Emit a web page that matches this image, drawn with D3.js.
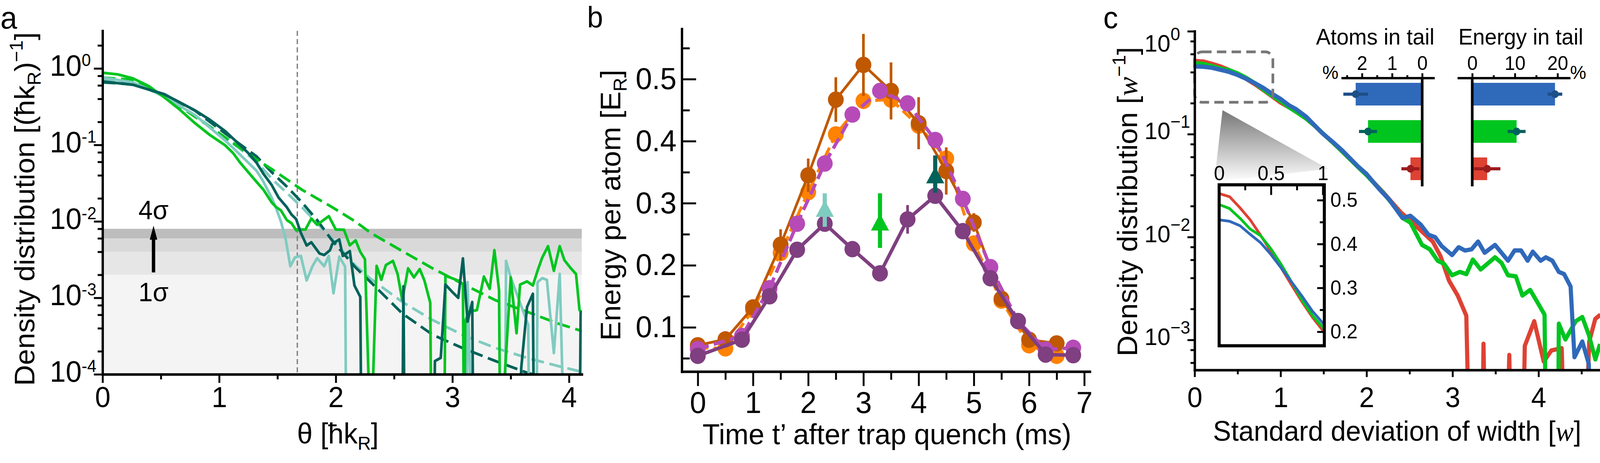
<!DOCTYPE html>
<html>
<head>
<meta charset="utf-8">
<script src="https://cdn.jsdelivr.net/npm/d3@7"></script>
<style>
  html, body { margin: 0; padding: 0; background: #fff; overflow: hidden; }
  svg { display: block; width: 100vw; height: 100vh; }
</style>
</head>
<body>
<svg id="fig" viewBox="0 0 4243 1185" preserveAspectRatio="none"></svg>
<script>
// ---------- panel a : momentum distributions ----------
const sigmaLevels = [0.002, 0.004, 0.006, 0.008];
const cutoffTheta = 1.67;
const thetaGreen = [0, 0.13, 0.26, 0.4, 0.53, 0.66, 0.79, 0.92, 1.05, 1.12, 1.18, 1.25, 1.32, 1.38, 1.45, 1.49, 1.53, 1.58, 1.62, 1.66, 1.7, 1.74, 1.79, 1.84, 1.94, 2.0, 2.07, 2.12, 2.17, 2.21, 2.25, 2.3, 2.35, 2.39, 2.43, 2.49, 2.53, 2.57, 2.62, 2.67, 2.72, 2.76, 2.81, 2.82, 2.93, 2.94, 3.05, 3.09, 3.1, 3.11, 3.14, 3.21, 3.27, 3.32, 3.36, 3.4, 3.41, 3.5, 3.55, 3.58, 3.64, 3.69, 3.73, 3.77, 3.82, 3.87, 3.92, 3.96, 4.01, 4.06, 4.09, 4.13];
const densGreen = [0.877, 0.836, 0.741, 0.583, 0.418, 0.291, 0.194, 0.135, 0.0991, 0.078, 0.0585, 0.0439, 0.0329, 0.0259, 0.0177, 0.0153, 0.0139, 0.0104, 0.00946, 0.00764, 0.00782, 0.00782, 0.0109, 0.00902, 0.0117, 0.00782, 0.00778, 0.00486, 0.00565, 0.00399, 0.0032, 0.00001, 0.00262, 0.00172, 0.00269, 0.00304, 0.00205, 0.00093, 0.00243, 0.00185, 0.00238, 0.00168, 0.00086, 0.00001, 0.00001, 0.00195, 0.00168, 0.00152, 0.00001, 0.00049, 0.00066, 0.00069, 0.0019, 0.00131, 0.0042, 0.00125, 0.00001, 0.00185, 0.000345, 0.00149, 0.00164, 0.00145, 0.00226, 0.00336, 0.00474, 0.00226, 0.00474, 0.00312, 0.00249, 0.00205, 0.00069, 0.00059];
const thetaLight = [0, 0.26, 0.53, 0.79, 1.05, 1.18, 1.32, 1.38, 1.45, 1.49, 1.53, 1.57, 1.61, 1.65, 1.7, 1.75, 1.8, 1.84, 1.9, 1.94, 1.98, 2.03, 2.08, 2.09, 3.12, 3.13, 3.17, 3.45, 3.46, 3.5, 3.65, 3.66, 3.72, 3.73, 3.77, 3.81, 3.87, 3.92, 3.96, 4.13];
const densLight = [0.76, 0.658, 0.428, 0.247, 0.115, 0.0743, 0.046, 0.0329, 0.0204, 0.0146, 0.00993, 0.00586, 0.00259, 0.00338, 0.00354, 0.00169, 0.00259, 0.0033, 0.00259, 0.00354, 0.00115, 0.00346, 0.00256, 0.00001, 0.00001, 0.0016, 0.00001, 0.00001, 0.00304, 0.00185, 0.00044, 0.00001, 0.00001, 0.0016, 0.00181, 0.00172, 0.00019, 0.00205, 0.00001, 0.00001];
const thetaDark = [0, 0.26, 0.53, 0.79, 0.92, 1.05, 1.18, 1.25, 1.32, 1.38, 1.45, 1.51, 1.58, 1.62, 1.66, 1.7, 1.75, 1.79, 1.86, 1.9, 1.95, 1.97, 2.03, 2.06, 2.12, 2.16, 2.21, 2.22, 2.57, 2.58, 2.59, 2.84, 2.85, 2.9, 2.94, 3.0, 3.05, 3.09, 3.13, 3.17, 3.18, 3.58, 3.59, 3.64, 3.69, 3.7, 4.09, 4.1, 4.13];
const densDark = [0.675, 0.612, 0.459, 0.284, 0.213, 0.152, 0.0991, 0.078, 0.0585, 0.0418, 0.0299, 0.0204, 0.0153, 0.0123, 0.0107, 0.0071, 0.00484, 0.00532, 0.00381, 0.00363, 0.00419, 0.00508, 0.0058, 0.00353, 0.00409, 0.00145, 0.00103, 0.00001, 0.00001, 0.00141, 0.00001, 0.00001, 0.000149, 0.000164, 0.00149, 0.00119, 0.001, 0.00327, 0.000489, 0.000883, 0.00001, 0.00001, 0.00012, 0.00076, 0.00113, 0.00001, 0.00001, 0.00064, 0.00069];
// model curves (dashed)
const thetaModel = [0, 0.26, 0.53, 0.79, 1.05, 1.32, 1.45, 1.58, 1.71, 1.84, 1.97, 2.17, 2.3, 2.57, 2.83, 3.1, 3.37, 3.64, 3.9, 4.13];
const modelGreen = [0.76, 0.708, 0.438, 0.235, 0.126, 0.0644, 0.0483, 0.0354, 0.0259, 0.0199, 0.0153, 0.0099, 0.00705, 0.00409, 0.00243, 0.00149, 0.00093, 0.000658, 0.000465, 0.00036];
const modelLight = [0.70, 0.676, 0.447, 0.245, 0.126, 0.0603, 0.0362, 0.0236, 0.0153, 0.00946, 0.00586, 0.00262, 0.00177, 0.000883, 0.000513, 0.000321, 0.000221, 0.000164, 0.000129, 0.000106];
const modelDark = [0.658, 0.62, 0.459, 0.282, 0.142, 0.0708, 0.0439, 0.0285, 0.0177, 0.0104, 0.00558, 0.00249, 0.0016, 0.000625, 0.000329, 0.000216, 0.000149, 0.000105, 0.000082, 0.000066];
const sigmaArrow = { theta: 0.437, from: 0.00215, to: 0.0088 };

// ---------- panel b : energy per atom ----------
const timeA = [0, 0.5, 1, 1.5, 2, 2.5, 3, 3.5, 4, 4.5, 5, 5.5, 6, 6.5];
const energyDarkOrange = [0.071, 0.0805, 0.132, 0.233, 0.345, 0.467, 0.523, 0.481, 0.429, 0.352, 0.269, 0.146, 0.08, 0.074];
const errDarkOrange = [0, 0, 0.005, 0.025, 0.027, 0.036, 0.05, 0.046, 0.042, 0.038, 0.015, 0.008, 0, 0];
const energyOrange = [0.067, 0.066, 0.128, 0.22, 0.318, 0.411, 0.465, 0.467, 0.425, 0.372, 0.235, 0.143, 0.071, 0.054];
const timeB = [0, 0.8, 1.3, 1.8, 2.3, 2.8, 3.3, 3.8, 4.3, 4.8, 5.3, 5.8, 6.3, 6.8];
const energyMagenta = [0.065, 0.086, 0.163, 0.267, 0.364, 0.443, 0.481, 0.461, 0.402, 0.307, 0.197, 0.11, 0.064, 0.067];
const energyPurple = [0.054, 0.08, 0.15, 0.225, 0.267, 0.226, 0.187, 0.274, 0.312, 0.255, 0.179, 0.11, 0.056, 0.055];
const errPurple = [0, 0, 0, 0, 0, 0, 0, 0.023, 0.012, 0, 0, 0, 0, 0];
const arrowTimes = [2.3, 3.3, 4.3];
const arrowLow = [0.262, 0.228, 0.317];
const arrowHigh = [0.316, 0.316, 0.377];
const arrowTip = [0.305, 0.283, 0.359];

// ---------- panel c : width distributions ----------
const widthRed = [0, 0.1, 0.2, 0.3, 0.4, 0.5, 0.6, 0.7, 0.8, 0.9, 1.0, 1.1, 1.2, 1.3, 1.4, 1.5, 1.6, 1.7, 1.8, 1.9, 2.0, 2.1, 2.2, 2.3, 2.4, 2.5, 2.63, 2.77, 2.86, 2.96, 3.06, 3.16, 3.22, 3.33, 3.36, 3.4, 3.6, 3.66, 3.7, 3.8, 3.84, 3.95, 4.06, 4.15, 4.27, 4.33, 4.5, 4.59, 4.66, 4.72];
const densRed = [0.515, 0.508, 0.483, 0.455, 0.42, 0.383, 0.345, 0.306, 0.268, 0.233, 0.203, 0.182, 0.161, 0.141, 0.12, 0.1, 0.084, 0.07, 0.058, 0.048, 0.04, 0.0328, 0.0268, 0.0215, 0.0173, 0.0146, 0.0116, 0.00903, 0.00652, 0.00375, 0.0027, 0.00172, 0.00001, 0.00001, 0.000918, 0.00001, 0.00001, 0.000715, 0.00001, 0.00001, 0.000873, 0.00152, 0.000617, 0.000791, 0.000832, 0.00001, 0.00001, 0.000966, 0.0016, 0.00176];
const widthGreen = [0, 0.1, 0.2, 0.3, 0.4, 0.5, 0.6, 0.7, 0.8, 0.9, 1.0, 1.1, 1.2, 1.3, 1.4, 1.5, 1.6, 1.7, 1.8, 1.9, 2.0, 2.1, 2.2, 2.3, 2.42, 2.51, 2.645, 2.736, 2.827, 2.903, 2.994, 3.085, 3.161, 3.236, 3.327, 3.494, 3.57, 3.645, 3.736, 3.812, 3.903, 3.994, 4.07, 4.1, 4.22, 4.236, 4.312, 4.433, 4.509, 4.585, 4.661, 4.715];
const densGreenC = [0.49, 0.481, 0.459, 0.434, 0.419, 0.389, 0.353, 0.313, 0.272, 0.237, 0.21, 0.182, 0.161, 0.141, 0.12, 0.1, 0.084, 0.07, 0.058, 0.048, 0.04, 0.0325, 0.0265, 0.021, 0.0153, 0.0138, 0.00838, 0.00759, 0.00589, 0.00547, 0.00425, 0.00458, 0.00436, 0.00604, 0.00484, 0.00635, 0.0056, 0.00425, 0.00415, 0.0027, 0.00306, 0.00227, 0.00176, 0.00001, 0.00001, 0.00144, 0.00101, 0.00152, 0.00167, 0.00112, 0.000646, 0.000912];
const widthBlue = [0, 0.1, 0.2, 0.3, 0.4, 0.5, 0.6, 0.7, 0.8, 0.9, 1.0, 1.1, 1.18, 1.3, 1.48, 1.6, 1.72, 1.9, 2.0, 2.145, 2.267, 2.418, 2.509, 2.63, 2.721, 2.797, 2.873, 2.994, 3.07, 3.145, 3.221, 3.297, 3.373, 3.494, 3.645, 3.721, 3.797, 3.873, 3.933, 4.024, 4.085, 4.161, 4.236, 4.297, 4.373, 4.418, 4.509, 4.585, 4.62, 4.72];
const densBlue = [0.455, 0.452, 0.442, 0.422, 0.403, 0.376, 0.345, 0.313, 0.281, 0.247, 0.22, 0.19, 0.175, 0.147, 0.103, 0.085, 0.069, 0.0486, 0.041, 0.0294, 0.0229, 0.0153, 0.0161, 0.0132, 0.0105, 0.00998, 0.00817, 0.00668, 0.00796, 0.0074, 0.00759, 0.00904, 0.00703, 0.00838, 0.00589, 0.0074, 0.0074, 0.00589, 0.00721, 0.00589, 0.00635, 0.00589, 0.00458, 0.00437, 0.0033, 0.000679, 0.000966, 0.000583, 0.00001, 0.00001];
const zoomBox = { x0: 0, x1: 0.91, y0: 0.204, y1: 0.63 };
const tailGroups = ['blue', 'green', 'red'];
const atomsInTail = [2.21, 1.80, 0.39];
const atomsErr = [0.41, 0.30, 0.30];
const energyInTail = [19.4, 10.4, 3.5];
const energyErr = [1.7, 2.1, 3.1];

const FONT = "'Liberation Sans', Arial, Helvetica, sans-serif";
const SERIF = "'Liberation Serif', 'Times New Roman', serif";
const C = {
    green: '#00c51f', light: '#80cbc0', dark: '#00625a',
    darkOrange: '#c05800', orange: '#ff8200', magenta: '#b64bb8', purple: '#7f3f80',
    red: '#de4233', blue: '#2f69ba'
};
const intFmt = d3.format('d');

const svg = d3.select('#fig').attr('font-family', FONT);
const defs = svg.append('defs');

function pairs(xs, ys) { return xs.map(function (x, i) { return [x, ys[i]]; }); }

/** log minor ticks at 2, 4, 6, 8 x decade */
function evenMinors(scale) {
    return scale.ticks().filter(function (v) {
        const m = Math.round(v / Math.pow(10, Math.floor(Math.log10(v) + 1e-9)));
        return m === 2 || m === 4 || m === 6 || m === 8;
    });
}

function styleAxis(g, fs) {
    g.attr('font-family', FONT).attr('font-size', fs);
    g.select('.domain').attr('stroke', '#000').attr('stroke-width', 6).attr('stroke-linecap', 'square');
    g.selectAll('.tick line').attr('stroke', '#000').attr('stroke-width', 5);
    g.selectAll('.tick text').attr('fill', '#000');
    return g;
}

/** text with sub/superscript parts */
function richText(x, y, rotate, parts, fs, anchor) {
    const t = svg.append('text')
        .attr('transform', 'translate(' + x + ',' + y + ')' + (rotate ? ' rotate(-90)' : ''))
        .attr('text-anchor', anchor || 'middle').attr('font-size', fs).attr('fill', '#000');
    let shift = 0;
    parts.forEach(function (p) {
        const ts = t.append('tspan').text(p.t);
        const target = p.sub ? 0.22 * fs : (p.sup ? -0.42 * fs : 0);
        ts.attr('dy', target - shift);
        shift = target;
        if (p.sub || p.sup) ts.attr('font-size', fs * 0.66);
        if (p.it) ts.attr('font-family', SERIF).attr('font-style', 'italic');
    });
    return t;
}

/** "10^k" decade label, left aligned on the "10" */
function decadeLabel(x, y, exp, fs, supFs, raise) {
    const t = svg.append('text').attr('x', x).attr('y', y).attr('font-size', fs).attr('fill', '#000');
    t.append('tspan').text('10');
    t.append('tspan').attr('dy', -raise).attr('font-size', supFs).text(exp);
}

function clip(id, x, y, w, h) {
    defs.append('clipPath').attr('id', id).append('rect').attr('x', x).attr('y', y).attr('width', w).attr('height', h);
}

// =================== PANEL A ===================
const xA = d3.scaleLinear().domain([0, 4.11]).range([272, 1543]);
const yA = d3.scaleLog().domain([1e-4, 3.1]).range([958, 79]);
clip('clipA', 272, 79, 1271, 879);
const gA = svg.append('g').attr('clip-path', 'url(#clipA)');

const bandColors = ['#f4f4f4', '#e6e6e6', '#d9d9d9', '#bdbdbd'];
sigmaLevels.forEach(function (lvl, i) {
    const lo = i === 0 ? 1e-4 : sigmaLevels[i - 1];
    gA.append('rect').attr('x', xA(0)).attr('width', xA(4.11) - xA(0))
        .attr('y', yA(lvl)).attr('height', yA(lo) - yA(lvl)).attr('fill', bandColors[i]);
});
gA.append('line').attr('x1', xA(cutoffTheta)).attr('x2', xA(cutoffTheta)).attr('y1', yA(3.1)).attr('y2', yA(1e-4))
    .attr('stroke', '#808080').attr('stroke-width', 3.5).attr('stroke-dasharray', '13,8');

const lineA = d3.line().x(function (d) { return xA(d[0]); }).y(function (d) { return yA(d[1]); });
[[modelLight, C.light], [modelDark, C.dark], [modelGreen, C.green]].forEach(function (m) {
    gA.append('path').attr('d', lineA(pairs(thetaModel, m[0]))).attr('fill', 'none')
        .attr('stroke', m[1]).attr('stroke-width', 7).attr('stroke-dasharray', '34,15');
});
[[thetaLight, densLight, C.light], [thetaGreen, densGreen, C.green], [thetaDark, densDark, C.dark]].forEach(function (s) {
    gA.append('path').attr('d', lineA(pairs(s[0], s[1]))).attr('fill', 'none')
        .attr('stroke', s[2]).attr('stroke-width', 7).attr('stroke-linejoin', 'round');
});

// sigma arrow
const axA = xA(sigmaArrow.theta);
const tipA = yA(sigmaArrow.to);
svg.append('line').attr('x1', axA).attr('x2', axA).attr('y1', yA(sigmaArrow.from)).attr('y2', tipA + 30)
    .attr('stroke', '#000').attr('stroke-width', 9);
svg.append('path').attr('d', 'M' + axA + ',' + tipA + 'L' + (axA - 10) + ',' + (tipA + 36) + 'L' + (axA + 10) + ',' + (tipA + 36) + 'Z').attr('fill', '#000');
richText(axA, 561, false, [{ t: '4σ' }], 68);
richText(axA, 771, false, [{ t: '1σ' }], 68);

// axes a
styleAxis(svg.append('g').attr('transform', 'translate(0,958)')
    .call(d3.axisBottom(xA).tickValues([0, 1, 2, 3, 4]).tickFormat(intFmt).tickSize(22).tickPadding(9).tickSizeOuter(0)), 74);
styleAxis(svg.append('g').attr('transform', 'translate(0,958)')
    .call(d3.axisBottom(xA).tickValues([0.5, 1.5, 2.5, 3.5]).tickSize(13).tickFormat('').tickSizeOuter(0)), 74);
const decadesA = [1e-4, 1e-3, 1e-2, 1e-1, 1];
styleAxis(svg.append('g').attr('transform', 'translate(272,0)')
    .call(d3.axisLeft(yA).tickValues(decadesA).tickSize(23).tickFormat('').tickSizeOuter(0)), 74);
styleAxis(svg.append('g').attr('transform', 'translate(272,0)')
    .call(d3.axisLeft(yA).tickValues(evenMinors(yA)).tickSize(13).tickFormat('').tickSizeOuter(0)), 74);
decadesA.forEach(function (v) {
    const e = Math.round(Math.log10(v));
    decadeLabel(132, yA(v) + 19, e === 0 ? '0' : '-' + (-e), 76, 44, 25);
});

richText(91, 535, true, [{ t: 'Density distribution [(ħk' }, { t: 'R', sub: true }, { t: ')' }, { t: '−1', sup: true }, { t: ']' }], 74);
richText(896, 1135, false, [{ t: 'θ [ħk' }, { t: 'R', sub: true }, { t: ']' }], 74);
svg.append('text').attr('x', 1).attr('y', 73).attr('font-size', 80).text('a');

// =================== PANEL B ===================
const xB = d3.scaleLinear().domain([-0.29, 7.1]).range([1808, 2890]);
const yB = d3.scaleLinear().domain([0.0286, 0.581]).range([951, 74]);
const lineB = d3.line().x(function (d) { return xB(d[0]); }).y(function (d) { return yB(d[1]); });

function seriesB(ts, vs, errs, color, width, dash) {
    svg.append('path').attr('d', lineB(pairs(ts, vs))).attr('fill', 'none').attr('stroke', color)
        .attr('stroke-width', width).attr('stroke-dasharray', dash || null).attr('stroke-linejoin', 'round');
    if (errs) {
        svg.selectAll(null).data(ts.map(function (t, i) { return [t, vs[i], errs[i]]; }).filter(function (d) { return d[2] > 0; }))
            .enter().append('line')
            .attr('x1', function (d) { return xB(d[0]); }).attr('x2', function (d) { return xB(d[0]); })
            .attr('y1', function (d) { return yB(d[1] - d[2]); }).attr('y2', function (d) { return yB(d[1] + d[2]); })
            .attr('stroke', color).attr('stroke-width', 7);
    }
    svg.selectAll(null).data(pairs(ts, vs)).enter().append('circle')
        .attr('cx', function (d) { return xB(d[0]); }).attr('cy', function (d) { return yB(d[1]); })
        .attr('r', 21).attr('fill', color);
}
seriesB(timeA, energyOrange, null, C.orange, 8, '28,14');
seriesB(timeA, energyDarkOrange, errDarkOrange, C.darkOrange, 7);
seriesB(timeB, energyMagenta, null, C.magenta, 9, '30,14');
seriesB(timeB, energyPurple, errPurple, C.purple, 9);

const arrowColors = [C.light, C.green, C.dark];
arrowTimes.forEach(function (t, i) {
    const x = xB(t);
    svg.append('line').attr('x1', x).attr('x2', x).attr('y1', yB(arrowLow[i])).attr('y2', yB(arrowHigh[i]))
        .attr('stroke', arrowColors[i]).attr('stroke-width', 11);
    const tip = yB(arrowTip[i]);
    const base = yB(arrowTip[i] - 0.027);
    svg.append('path').attr('d', 'M' + x + ',' + tip + 'L' + (x - 24) + ',' + base + 'L' + (x + 24) + ',' + base + 'Z')
        .attr('fill', arrowColors[i]);
});

styleAxis(svg.append('g').attr('transform', 'translate(0,951)')
    .call(d3.axisBottom(xB).tickValues([0, 1, 2, 3, 4, 5, 6, 7]).tickFormat(intFmt).tickSize(37).tickPadding(14).tickSizeOuter(0)), 78);
styleAxis(svg.append('g').attr('transform', 'translate(0,951)')
    .call(d3.axisBottom(xB).tickValues([0.5, 1.5, 2.5, 3.5, 4.5, 5.5, 6.5]).tickSize(21).tickFormat('').tickSizeOuter(0)), 78);
styleAxis(svg.append('g').attr('transform', 'translate(1808,0)')
    .call(d3.axisLeft(yB).tickValues([0.1, 0.2, 0.3, 0.4, 0.5]).tickSize(-38).tickPadding(14)
        .tickFormat(d3.format('.1f')).tickSizeOuter(0)), 78);
styleAxis(svg.append('g').attr('transform', 'translate(1808,0)')
    .call(d3.axisLeft(yB).tickValues([0.05, 0.15, 0.25, 0.35, 0.45, 0.55]).tickSize(-21).tickFormat('').tickSizeOuter(0)), 78);

richText(1645, 525, true, [{ t: 'Energy per atom [E' }, { t: 'R', sub: true }, { t: ']' }], 74);
richText(2352, 1137, false, [{ t: 'Time t’ after trap quench (ms)' }], 75);
svg.append('text').attr('x', 1557).attr('y', 70).attr('font-size', 76).text('b');

// =================== PANEL C ===================
const xC = d3.scaleLinear().domain([0, 4.715]).range([3168, 4243]);
const yC = d3.scaleLog().domain([5.1e-4, 1.0]).range([947, 80]);
const lineC = d3.line().x(function (d) { return xC(d[0]); }).y(function (d) { return yC(d[1]); });
clip('clipC', 3168, 78, 1075, 869);
const gC = svg.append('g').attr('clip-path', 'url(#clipC)');
const seriesC = [[widthRed, densRed, C.red], [widthGreen, densGreenC, C.green], [widthBlue, densBlue, C.blue]];
seriesC.forEach(function (s) {
    gC.append('path').attr('d', lineC(pairs(s[0], s[1]))).attr('fill', 'none').attr('stroke', s[2])
        .attr('stroke-width', 11).attr('stroke-linejoin', 'round');
});

// zoom box and fan
svg.append('rect').attr('x', xC(zoomBox.x0)).attr('y', yC(zoomBox.y1))
    .attr('width', xC(zoomBox.x1) - xC(zoomBox.x0)).attr('height', yC(zoomBox.y0) - yC(zoomBox.y1))
    .attr('rx', 20).attr('fill', 'none').attr('stroke', '#777').attr('stroke-width', 7).attr('stroke-dasharray', '25,14');
const grad = defs.append('linearGradient').attr('id', 'fan').attr('x1', 0).attr('y1', 0).attr('x2', 0).attr('y2', 1);
grad.append('stop').attr('offset', 0).attr('stop-color', '#777777');
grad.append('stop').attr('offset', 1).attr('stop-color', '#ffffff');
svg.append('path').attr('d', 'M3242,282L3220,466L3522,432Z').attr('fill', 'url(#fan)');

// inset
const xIn = d3.scaleLinear().domain([0, 1.015]).range([3233, 3512]);
const yIn = d3.scaleLinear().domain([0.168, 0.535]).range([885, 473]);
svg.append('rect').attr('x', 3233).attr('y', 473).attr('width', 279).attr('height', 412).attr('fill', '#fff');
clip('clipIn', 3233, 473, 279, 412);
const gIn = svg.append('g').attr('clip-path', 'url(#clipIn)');
const lineIn = d3.line().x(function (d) { return xIn(d[0]); }).y(function (d) { return yIn(d[1]); });
seriesC.forEach(function (s) {
    gIn.append('path').attr('d', lineIn(pairs(s[0], s[1]).filter(function (d) { return d[0] <= 1.2; })))
        .attr('fill', 'none').attr('stroke', s[2]).attr('stroke-width', 7).attr('stroke-linejoin', 'round');
});
svg.append('rect').attr('x', 3233).attr('y', 473).attr('width', 279).attr('height', 412)
    .attr('fill', 'none').attr('stroke', '#000').attr('stroke-width', 8);
styleAxis(svg.append('g').attr('transform', 'translate(0,473)')
    .call(d3.axisTop(xIn).tickValues([0, 0.5, 1]).tickSize(-26).tickPadding(12).tickFormat(d3.format('~g'))), 52)
    .select('.domain').remove();
styleAxis(svg.append('g').attr('transform', 'translate(0,473)')
    .call(d3.axisTop(xIn).tickValues([0.25, 0.75]).tickSize(-14).tickFormat('')), 52).select('.domain').remove();
styleAxis(svg.append('g').attr('transform', 'translate(3512,0)')
    .call(d3.axisRight(yIn).tickValues([0.2, 0.3, 0.4, 0.5]).tickSize(-19).tickPadding(16).tickFormat(d3.format('.1f'))), 52)
    .select('.domain').remove();
styleAxis(svg.append('g').attr('transform', 'translate(3512,0)')
    .call(d3.axisRight(yIn).tickValues([0.25, 0.35, 0.45]).tickSize(-12).tickFormat('')), 52).select('.domain').remove();

// tail bar charts
const xAtoms = d3.scaleLinear().domain([2.65, -0.37]).range([3560, 3801]);
const xEnergy = d3.scaleLinear().domain([-3.2, 22.7]).range([3868, 4161]);
const yTail = d3.scalePoint().domain(tailGroups).range([241, 432]);
const barFill = { blue: C.blue, green: C.green, red: C.red };
const dotFill = { blue: '#1d4f88', green: '#00625a', red: '#9c1b1d' };

function tailBars(xs, vals, errs, majors, minors, titleText, titleX, titleW, pctX) {
    svg.selectAll(null).data(tailGroups).enter().append('rect')
        .attr('x', function (d, i) { return Math.min(xs(0), xs(vals[i])); })
        .attr('width', function (d, i) { return Math.abs(xs(vals[i]) - xs(0)); })
        .attr('y', function (d) { return yTail(d) - 29; }).attr('height', 58)
        .attr('fill', function (d) { return barFill[d]; });
    svg.selectAll(null).data(tailGroups).enter().append('line')
        .attr('x1', function (d, i) { return xs(vals[i] - errs[i]); })
        .attr('x2', function (d, i) { return xs(vals[i] + errs[i]); })
        .attr('y1', function (d) { return yTail(d); }).attr('y2', function (d) { return yTail(d); })
        .attr('stroke', function (d) { return dotFill[d]; }).attr('stroke-width', 8);
    svg.selectAll(null).data(tailGroups).enter().append('circle')
        .attr('cx', function (d, i) { return xs(vals[i]); }).attr('cy', function (d) { return yTail(d); })
        .attr('r', 10).attr('fill', function (d) { return dotFill[d]; });
    svg.append('line').attr('x1', xs(0)).attr('x2', xs(0)).attr('y1', 199.5).attr('y2', 477)
        .attr('stroke', '#000').attr('stroke-width', 7);
    styleAxis(svg.append('g').attr('transform', 'translate(0,199.5)')
        .call(d3.axisTop(xs).tickValues(majors).tickFormat(intFmt).tickSize(12).tickPadding(9).tickSizeOuter(0)), 50);
    styleAxis(svg.append('g').attr('transform', 'translate(0,199.5)')
        .call(d3.axisTop(xs).tickValues(minors).tickSize(7).tickFormat('').tickSizeOuter(0)), 50);
    svg.append('text').attr('x', titleX).attr('y', 114).attr('text-anchor', 'middle').attr('font-size', 58)
        .attr('textLength', titleW).attr('lengthAdjust', 'spacingAndGlyphs').text(titleText);
    svg.append('text').attr('x', pctX).attr('y', 202).attr('text-anchor', 'middle').attr('font-size', 48).text('%');
}
tailBars(xAtoms, atomsInTail, atomsErr, [2, 1, 0], [2.5, 1.5, 0.5], 'Atoms in tail', 3647, 314, 3528);
tailBars(xEnergy, energyInTail, energyErr, [0, 10, 20], [5, 15], 'Energy in tail', 4033, 331, 4185);

// axes c
styleAxis(svg.append('g').attr('transform', 'translate(0,947)')
    .call(d3.axisBottom(xC).tickValues([0, 1, 2, 3, 4]).tickFormat(intFmt).tickSize(18).tickPadding(26).tickSizeOuter(0)), 72);
styleAxis(svg.append('g').attr('transform', 'translate(0,947)')
    .call(d3.axisBottom(xC).tickValues([0.5, 1.5, 2.5, 3.5, 4.5]).tickSize(11).tickFormat('').tickSizeOuter(0)), 72);
const decadesC = [1e-3, 1e-2, 1e-1, 1];
styleAxis(svg.append('g').attr('transform', 'translate(3168,0)')
    .call(d3.axisLeft(yC).tickValues(decadesC).tickSize(19).tickFormat('').tickSizeOuter(0)), 72);
styleAxis(svg.append('g').attr('transform', 'translate(3168,0)')
    .call(d3.axisLeft(yC).tickValues(evenMinors(yC)).tickSize(11).tickFormat('').tickSizeOuter(0)), 72);
decadesC.forEach(function (v) {
    const e = Math.round(Math.log10(v));
    decadeLabel(3035, e === 0 ? 132 : yC(v) + 13, e === 0 ? '0' : '−' + (-e), 62, 46, 29);
});

richText(3015, 516, true, [{ t: 'Density distribution [' }, { t: 'w', it: true }, { t: '−1', sup: true }, { t: ']' }], 74);
richText(3705, 1128, false, [{ t: 'Standard deviation of width [' }, { t: 'w', it: true }, { t: ']' }], 72);
svg.append('text').attr('x', 2926).attr('y', 72).attr('font-size', 78).text('c');
</script>
</body>
</html>
